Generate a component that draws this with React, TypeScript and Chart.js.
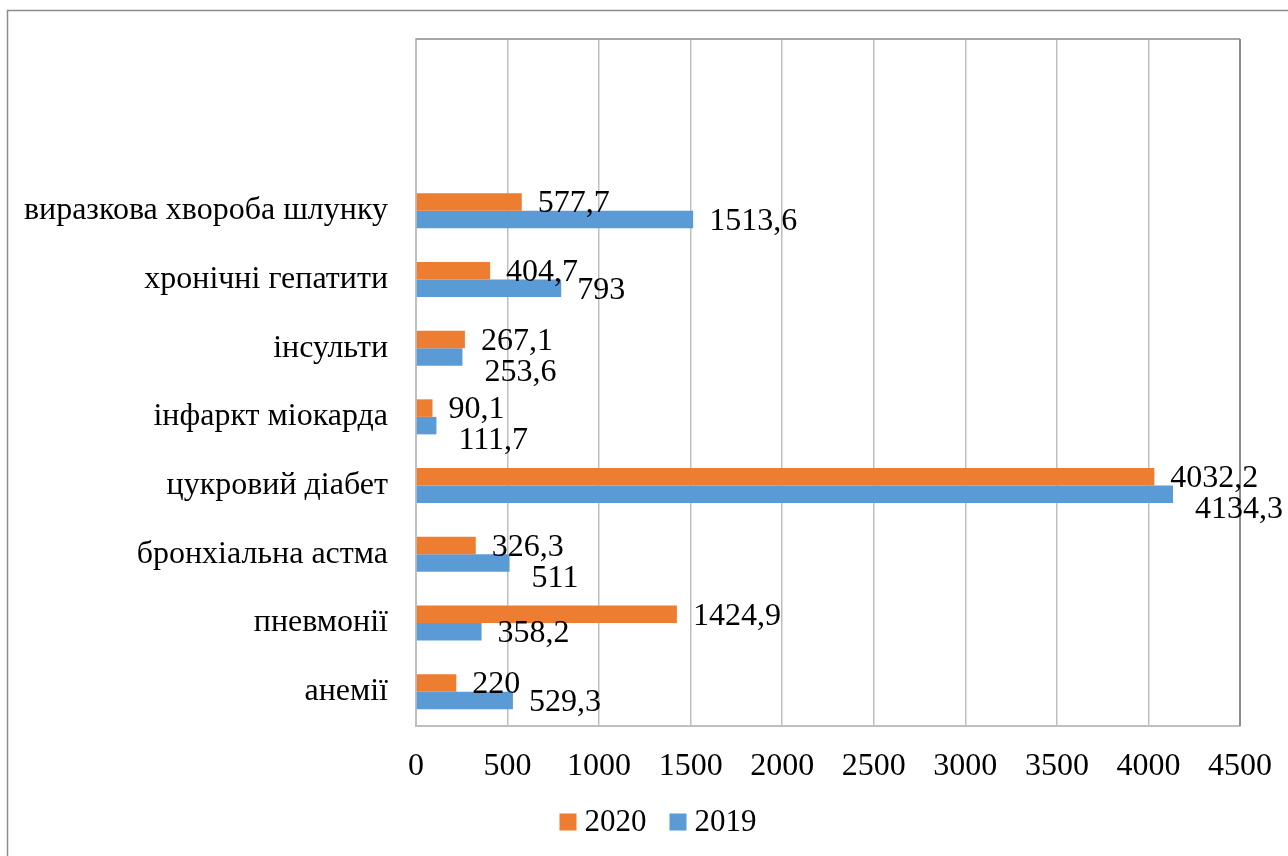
import React, { useEffect, useRef } from 'react';
import { Chart, registerables } from 'chart.js';

Chart.register(...registerables);

const categories = [
  '',
  '',
  'виразкова хвороба шлунку',
  'хронічні гепатити',
  'інсульти',
  'інфаркт міокарда',
  'цукровий діабет',
  'бронхіальна астма',
  'пневмонії',
  'анемії',
];
const values2020: (number | null)[] = [null, null, 577.7, 404.7, 267.1, 90.1, 4032.2, 326.3, 1424.9, 220];
const values2019: (number | null)[] = [null, null, 1513.6, 793, 253.6, 111.7, 4134.3, 511, 358.2, 529.3];
const seriesNames = ['2020', '2019'];
const xMin = 0;
const xMax = 4500;
const xStep = 500;

const FONT = '"Liberation Serif", "Times New Roman", serif';
const FSIZE = 32;
const LEGEND_FSIZE = 31;
const ORANGE = '#ED7D31';
const BLUE = '#5B9BD5';
const COLORS = [ORANGE, BLUE];

const fmt = (v: number) => String(v).replace('.', ',');

const decorPlugin = {
  id: 'decor',
  beforeDraw(chart: any) {
    const ctx = chart.ctx;
    ctx.save();
    ctx.strokeStyle = '#8c8c8c';
    ctx.lineWidth = 1.5;
    ctx.beginPath();
    ctx.moveTo(7.5, chart.height);
    ctx.lineTo(7.5, 10.5);
    ctx.lineTo(chart.width, 10.5);
    ctx.stroke();
    ctx.restore();
  },
  beforeDatasetsDraw(chart: any) {
    const ctx = chart.ctx;
    const a = chart.chartArea;
    ctx.save();
    ctx.strokeStyle = '#a6a6a6';
    ctx.lineWidth = 2;
    ctx.beginPath();
    ctx.moveTo(a.left, a.top);
    ctx.lineTo(a.right, a.top);
    ctx.stroke();
    ctx.strokeStyle = '#8c8c8c';
    ctx.beginPath();
    ctx.moveTo(a.right, a.top);
    ctx.lineTo(a.right, a.bottom);
    ctx.stroke();
    ctx.restore();
  },
  afterDatasetsDraw(chart: any) {
    const ctx = chart.ctx;
    const m0 = chart.getDatasetMeta(0);
    const m1 = chart.getDatasetMeta(1);
    ctx.save();
    ctx.font = `${FSIZE}px ${FONT}`;
    ctx.fillStyle = '#000';
    ctx.textBaseline = 'middle';
    ctx.textAlign = 'left';
    const h = 22;
    for (let i = 0; i < categories.length; i++) {
      const v0 = values2020[i];
      const v1 = values2019[i];
      if (v0 == null || v1 == null) continue;
      const b0 = m0.data[i];
      const b1 = m1.data[i];
      const t0 = fmt(v0);
      const t1 = fmt(v1);
      const x0 = b0.x + 16;
      const y0 = b0.y + 2;
      const w0 = ctx.measureText(t0).width;
      let x1 = b1.x + 16;
      let y1 = b1.y + 2;
      const w1 = ctx.measureText(t1).width;
      const ox = Math.min(x0 + w0, x1 + w1) - Math.max(x0, x1);
      const oy = h - Math.abs(y1 - y0);
      if (ox > 4 && oy > 0) {
        y1 = y0 + 31;
        x1 = b1.x + 22;
      }
      ctx.fillText(t0, x0, y0);
      ctx.fillText(t1, x1, y1);
    }
    ctx.restore();
  },
  afterDraw(chart: any) {
    const ctx = chart.ctx;
    ctx.save();
    ctx.font = `${LEGEND_FSIZE}px ${FONT}`;
    ctx.textBaseline = 'middle';
    ctx.textAlign = 'left';
    const box = 17;
    const gap = 8;
    const itemGap = 23;
    const widths = seriesNames.map((s) => ctx.measureText(s).width);
    const total = widths.reduce((acc, w) => acc + box + gap + w, 0) + itemGap * (seriesNames.length - 1);
    const cy = 822;
    let x = 658 - total / 2;
    seriesNames.forEach((s, i) => {
      ctx.fillStyle = COLORS[i];
      ctx.fillRect(x, cy - box / 2, box, box);
      ctx.fillStyle = '#000';
      ctx.fillText(s, x + box + gap, cy + 1);
      x += box + gap + widths[i] + itemGap;
    });
    ctx.restore();
  },
};

export default function App() {
  const ref = useRef<HTMLCanvasElement | null>(null);

  useEffect(() => {
    if (!ref.current) return;
    const chart = new Chart(ref.current, {
      type: 'bar',
      data: {
        labels: categories,
        datasets: [
          {
            label: seriesNames[0],
            data: values2020,
            backgroundColor: ORANGE,
            borderWidth: 0,
            categoryPercentage: 0.51,
            barPercentage: 1,
          },
          {
            label: seriesNames[1],
            data: values2019,
            backgroundColor: BLUE,
            borderWidth: 0,
            categoryPercentage: 0.51,
            barPercentage: 1,
          },
        ],
      },
      options: {
        indexAxis: 'y',
        responsive: false,
        animation: false,
        devicePixelRatio: 1,
        layout: { padding: { left: 0, top: 39, right: 48, bottom: 59 } },
        scales: {
          x: {
            min: xMin,
            max: xMax,
            ticks: {
              stepSize: xStep,
              color: '#000',
              padding: 21,
              font: { family: FONT, size: FSIZE },
              callback: (v: any) => String(v),
            },
            grid: { color: '#bfbfbf', lineWidth: 1.5, drawTicks: false },
            border: { display: true, color: '#bfbfbf', width: 2 },
            afterFit: (scale: any) => {
              scale.height = 71;
              scale.paddingLeft = 0;
              scale.paddingRight = 0;
            },
          },
          y: {
            ticks: {
              color: '#000',
              padding: 28,
              font: { family: FONT, size: FSIZE },
              autoSkip: false,
            },
            grid: { display: false, drawTicks: false },
            border: { display: true, color: '#bfbfbf', width: 2 },
            afterFit: (scale: any) => {
              scale.width = 416;
              scale.paddingTop = 0;
              scale.paddingBottom = 0;
            },
          },
        },
        plugins: {
          legend: { display: false },
          tooltip: { enabled: false },
        },
      },
      plugins: [decorPlugin],
    });
    return () => chart.destroy();
  }, []);

  return (
    <div style={{ position: 'fixed', left: 0, top: 0, width: 1288, height: 856, background: '#fff' }}>
      <canvas ref={ref} width={1288} height={856} />
    </div>
  );
}
